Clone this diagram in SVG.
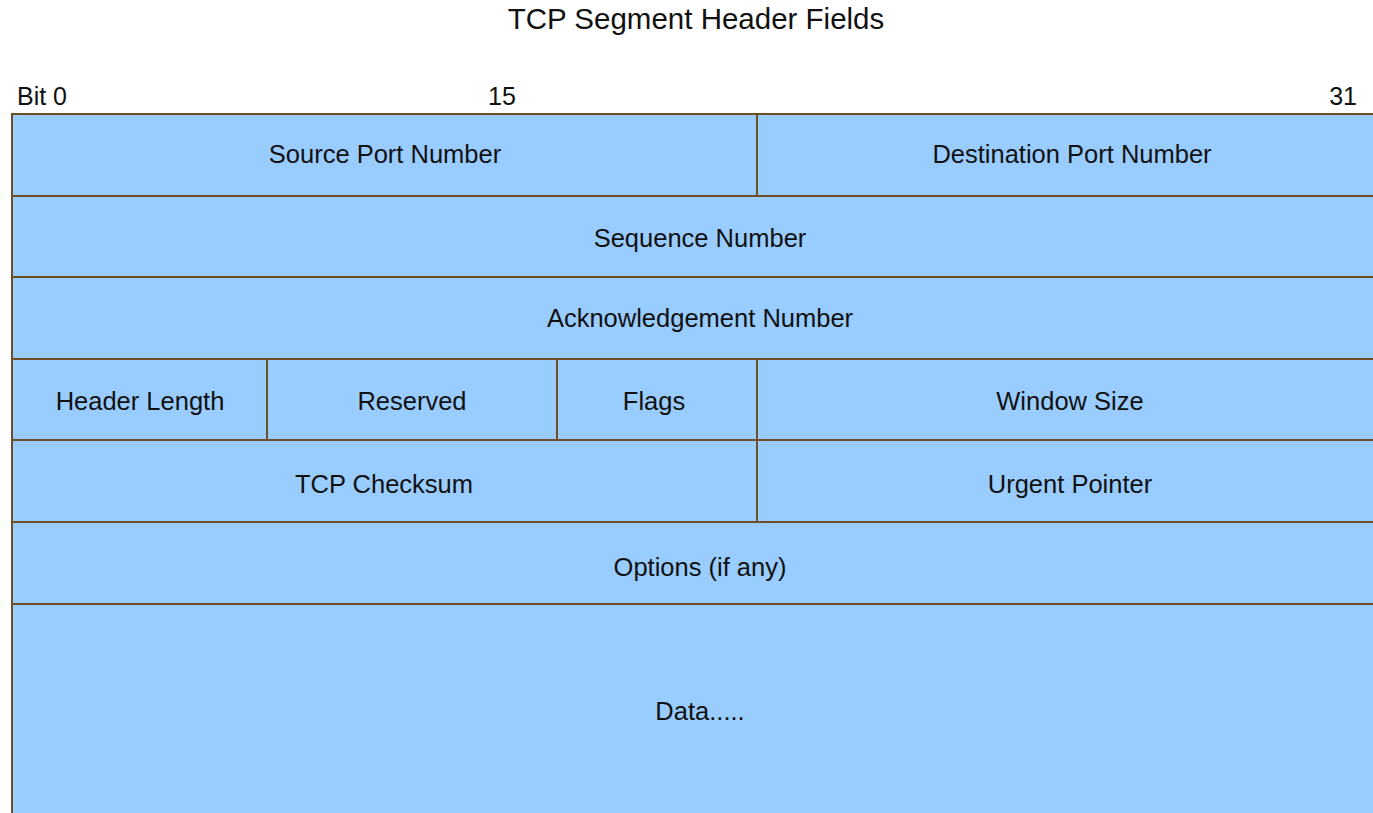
<svg xmlns="http://www.w3.org/2000/svg" width="1373" height="813" viewBox="0 0 1373 813">
<style>
.c{fill:#99ccff;stroke:#6e4e22;stroke-width:2}
.t{font-family:"Liberation Sans",Arial,sans-serif;font-size:25.5px;fill:#111;text-anchor:middle;dominant-baseline:central}
.h{font-family:"Liberation Sans",Arial,sans-serif;font-size:25px;fill:#111}
</style>
<rect width="1373" height="813" fill="#fff"/>
<text x="696" y="29" font-family="Liberation Sans,Arial,sans-serif" font-size="29.5" fill="#111" text-anchor="middle">TCP Segment Header Fields</text>
<text class="h" x="17" y="105">Bit 0</text>
<text class="h" x="502" y="105" text-anchor="middle">15</text>
<text class="h" x="1357" y="105" text-anchor="end">31</text>
<g id="src"><rect class="c" x="12" y="114" width="745" height="82"/><text class="t" x="385" y="154">Source Port Number</text></g>
<g id="dst"><rect class="c" x="757" y="114" width="630" height="82"/><text class="t" x="1072" y="154">Destination Port Number</text></g>
<g id="seq"><rect class="c" x="12" y="196" width="1375" height="81"/><text class="t" x="700" y="238">Sequence Number</text></g>
<g id="ack"><rect class="c" x="12" y="277" width="1375" height="82"/><text class="t" x="700" y="318">Acknowledgement Number</text></g>
<g id="hlen"><rect class="c" x="12" y="359" width="255" height="81"/><text class="t" x="140" y="401">Header Length</text></g>
<g id="res"><rect class="c" x="267" y="359" width="290" height="81"/><text class="t" x="412" y="401">Reserved</text></g>
<g id="flags"><rect class="c" x="557" y="359" width="200" height="81"/><text class="t" x="654" y="401">Flags</text></g>
<g id="win"><rect class="c" x="757" y="359" width="630" height="81"/><text class="t" x="1070" y="401">Window Size</text></g>
<g id="chk"><rect class="c" x="12" y="440" width="745" height="82"/><text class="t" x="384" y="484">TCP Checksum</text></g>
<g id="urg"><rect class="c" x="757" y="440" width="630" height="82"/><text class="t" x="1070" y="484">Urgent Pointer</text></g>
<g id="opt"><rect class="c" x="12" y="522" width="1375" height="82"/><text class="t" x="700" y="567">Options (if any)</text></g>
<g id="data"><rect class="c" x="12" y="604" width="1375" height="230"/><text class="t" x="700" y="711">Data.....</text></g>
<g id="connectors"></g>
</svg>
